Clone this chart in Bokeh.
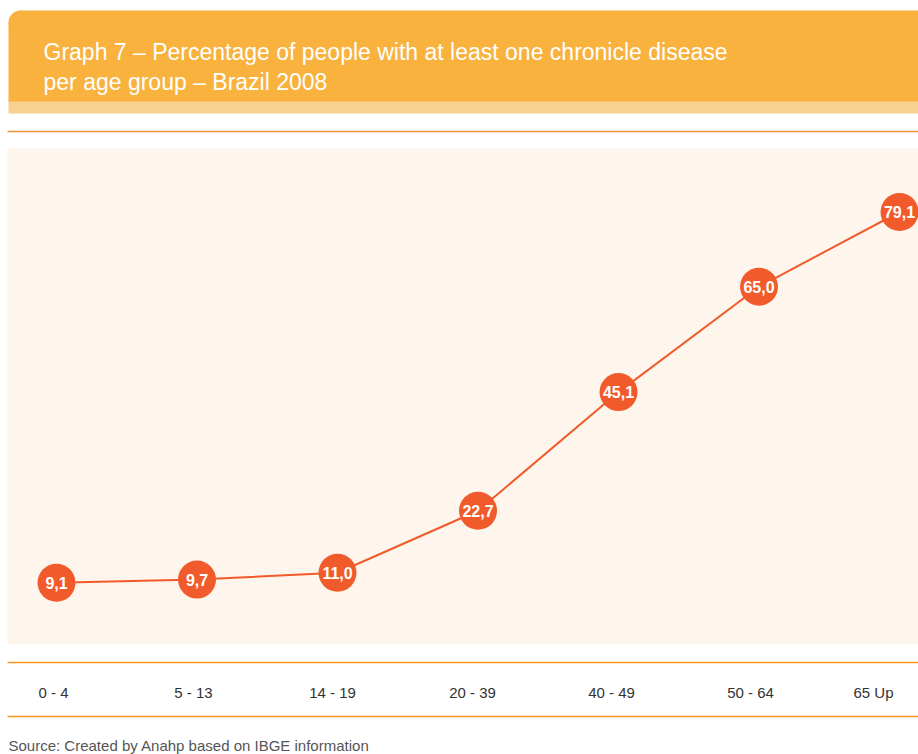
from bokeh.plotting import figure
from bokeh.models import Range1d, ColumnDataSource
from bokeh.core.properties import value
from bokeh.embed import file_html
from bokeh.resources import INLINE

# --- data -------------------------------------------------------------
age_groups = ["0 - 4", "5 - 13", "14 - 19", "20 - 39", "40 - 49", "50 - 64", "65 Up"]
pct_chronic = [9.1, 9.7, 11.0, 22.7, 45.1, 65.0, 79.1]

title_lines = [
    "Graph 7 \u2013 Percentage of people with at least one chronicle disease",
    "per age group \u2013 Brazil 2008",
]
source_note = "Source: Created by Anahp based on IBGE information"

# --- style ------------------------------------------------------------
W, H = 918, 754
FONT = "Liberation Sans"
HEADER = "#F9B23D"
HEADER_LIGHT = "#F8D18E"
RULE = "#F5961F"
RULE_TOP = "#EC9433"
CREAM = "#FEF5EC"
MARK = "#F15B2B"
# small horizontal nudges of the category labels (px)
label_dx = [-3, -3.5, -5, -5.5, -7, -8.5, -26]

idx = list(range(len(age_groups)))

p = figure(
    width=W, height=H,
    x_range=Range1d(-0.3986, 6.135),
    y_range=Range1d(-23.32, 119.03),
    output_backend="svg", toolbar_location=None,
    x_axis_location=None, y_axis_location=None,
    min_border=0, outline_line_color=None,
    background_fill_color="white", border_fill_color="white",
)
p.grid.visible = False
# page coordinates (pixels from top-left) for the surrounding layout
p.extra_x_ranges = {"page": Range1d(0, W)}
p.extra_y_ranges = {"page": Range1d(H, 0)}
pg = dict(x_range_name="page", y_range_name="page")

# header band with a rounded top-left corner
L, T, r = 8, 10, 12
p.quad(left=[L], right=[W], top=[T + r], bottom=[101.5], fill_color=HEADER, line_color=None, **pg)
p.quad(left=[L + r - 0.5], right=[W], top=[T], bottom=[T + r + 1], fill_color=HEADER, line_color=None, **pg)
p.ellipse(x=[L + r], y=[T + r], width=[2 * r], height=[2 * r], fill_color=HEADER, line_color=None, **pg)
p.quad(left=[L], right=[W], top=[101], bottom=[113], fill_color=HEADER_LIGHT, line_color=None, **pg)

p.text(x=[43, 43], y=[51, 81], text=title_lines, text_color="white",
       text_font=value(FONT), text_font_size="23px", text_baseline="alphabetic", **pg)

# rules and plotting area
p.segment(x0=[7], x1=[W], y0=[131], y1=[131], line_color=RULE_TOP, line_width=1.4, **pg)
p.quad(left=[7], right=[W], top=[148], bottom=[643.5], fill_color=CREAM, line_color=None, **pg)
p.segment(x0=[7, 7], x1=[W, W], y0=[662, 716], y1=[662, 716], line_color=RULE, line_width=1.5, **pg)

# category labels between the two rules
p.text(x=idx, y=[692] * len(idx), text=age_groups, x_offset=label_dx,
       text_color="#333333", text_font=value(FONT), text_font_size="15px",
       text_align="center", text_baseline="middle", y_range_name="page")

p.text(x=[8], y=[753], text=[source_note], text_color="#555555",
       text_font=value(FONT), text_font_size="15px", text_baseline="bottom", **pg)

# the series
src = ColumnDataSource(dict(
    x=idx, y=pct_chronic,
    label=[f"{v:.1f}".replace(".", ",") for v in pct_chronic],
))
p.line("x", "y", source=src, line_color=MARK, line_width=2)
p.scatter("x", "y", source=src, size=38, fill_color=MARK, line_color=None)
p.text("x", "y", text="label", source=src, text_color="white",
       text_font=value(FONT), text_font_style="bold", text_font_size="16px",
       text_align="center", text_baseline="middle")

open("out.html", "w").write(file_html(p, INLINE))
